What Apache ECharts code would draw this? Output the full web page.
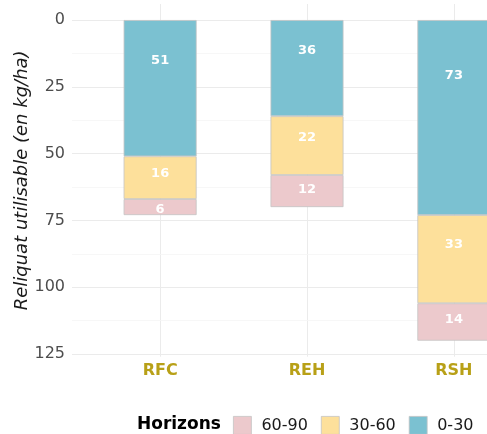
<!DOCTYPE html>
<html><head><meta charset="utf-8">
<script src="https://cdn.jsdelivr.net/npm/echarts@6/dist/echarts.min.js"></script>
<style>html,body{margin:0;padding:0;background:#fff}#c{width:487px;height:434px}</style>
</head><body><div id="c"></div>
<script>
const categories = ['RFC', 'REH', 'RSH'];
const h0_30 = [51, 36, 73];
const h30_60 = [16, 22, 33];
const h60_90 = [6, 12, 14];
const yTicks = [0, 25, 50, 75, 100, 125];
const yMinor = [12.5, 37.5, 62.5, 87.5, 112.5];

const font = 'DejaVu Sans';
const border = { borderColor: '#c4c4c4', borderWidth: 0.8 };
function mk(name, vals, color) {
  return {
    name: name, type: 'bar', stack: 'h', barWidth: 73,
    data: vals.map((v, i) => [v, i + 1]),
    encode: { x: 1, y: 0 },
    itemStyle: Object.assign({ color: color }, border),
    label: { show: true, position: ['50%', '25%'], offset: [0, 7], align: 'center', verticalAlign: 'middle',
      color: '#fff', fontWeight: 'bold', fontSize: 13, fontFamily: font,
      formatter: p => p.value[0] },
    z: 2
  };
}
const chart = echarts.init(document.getElementById('c'));
chart.setOption({
  animation: false,
  grid: { left: 72, top: 4, width: 470, height: 352.7, outerBoundsMode: 'none' },
  xAxis: {
    type: 'value', min: 0.4, max: 3.6,
    axisLine: { show: false },
    axisTick: { show: false, customValues: [1, 2, 3] },
    axisLabel: { customValues: [1, 2, 3], formatter: v => categories[Math.round(v) - 1] || '',
      color: '#b8a017', fontWeight: 'bold', fontSize: 16, fontFamily: font, margin: 6 },
    splitLine: { show: true, lineStyle: { color: '#ebebeb', width: 1 } }
  },
  yAxis: {
    type: 'value', inverse: true, min: -6, max: 126,
    axisLine: { show: false },
    axisTick: { show: false, customValues: yTicks },
    axisLabel: { customValues: yTicks, color: '#4d4d4d', fontSize: 16, fontFamily: font, margin: 7 },
    splitLine: { show: true, lineStyle: { color: '#ebebeb', width: 1 } },
    name: 'Reliquat utilisable (en kg/ha)', nameLocation: 'middle', nameGap: 41, nameMoveOverlap: false,
    nameTextStyle: { fontStyle: 'italic', fontSize: 18, color: '#1a1a1a', fontFamily: font }
  },
  legend: {
    data: ['60-90', '30-60', '0-30'], left: 233, top: 416, padding: 0,
    itemWidth: 18, itemHeight: 18, itemGap: 13, icon: 'rect',
    itemStyle: { borderColor: '#c4c4c4', borderWidth: 0.8 },
    textStyle: { fontSize: 16, color: '#1a1a1a', fontFamily: font, padding: [0, 0, 0, 5] }
  },
  graphic: [{ type: 'text', left: 137, top: 416,
    style: { text: 'Horizons', font: 'bold 17px "DejaVu Sans"', fill: '#000' } }],
  series: [
    { type: 'line', data: [], silent: true, z: 0,
      markLine: { silent: true, z: 0, symbol: 'none', label: { show: false },
        lineStyle: { color: '#f5f5f5', type: 'solid', width: 0.8 },
        data: yMinor.map(v => ({ yAxis: v })) } },
    mk('0-30', h0_30, '#7bc1d1'),
    mk('30-60', h30_60, '#fde09b'),
    mk('60-90', h60_90, '#ecc9cc')
  ]
});
</script></body></html>
